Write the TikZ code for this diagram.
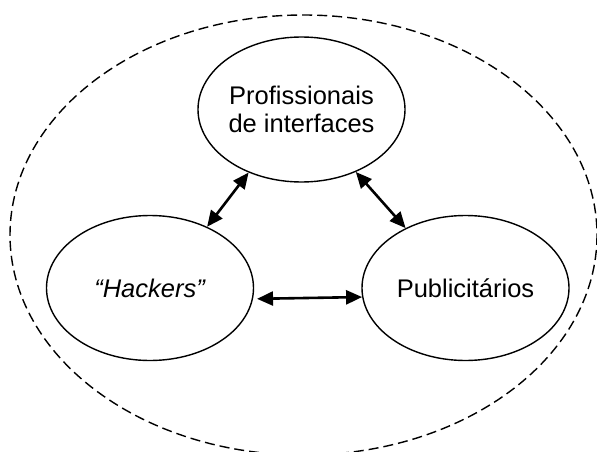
\documentclass[tikz,border=0pt]{standalone}
\usepackage{fontspec}
\setmainfont{Liberation Sans}
\usetikzlibrary{shapes.geometric,arrows.meta}
\tikzset{
  actor/.style={ellipse, draw=black, line width=1.4pt, inner sep=0pt,
    minimum width=207pt, minimum height=145pt, align=center,
    font=\fontsize{25.5}{28}\selectfont},
  link/.style={line width=2.6pt, {Triangle[length=16pt,width=14pt]}-{Triangle[length=16pt,width=14pt]}},
  boundary/.style={draw=black, line width=1.4pt, dash pattern=on 10pt off 5pt}
}
\begin{document}
\begin{tikzpicture}[x=1pt,y=-1pt]
\useasboundingbox (0,0) rectangle (597,452);
\draw[boundary] (303.5,235) ellipse [x radius=293.5, y radius=220];
\node[actor] (prof) at (301.5,109.5) {Profissionais\\de interfaces};
\node[actor] (hack) at (150,288) {\textit{“Hackers”}};
\node[actor] (pub) at (465.5,288) {Publicitários};
\draw[link] (prof.230.5) -- (hack.47.4);
\draw[link] (prof.311.2) -- (pub.135.7);
\draw[link] ([xshift=4pt]hack.-6) -- (pub.185);
\end{tikzpicture}
\end{document}
